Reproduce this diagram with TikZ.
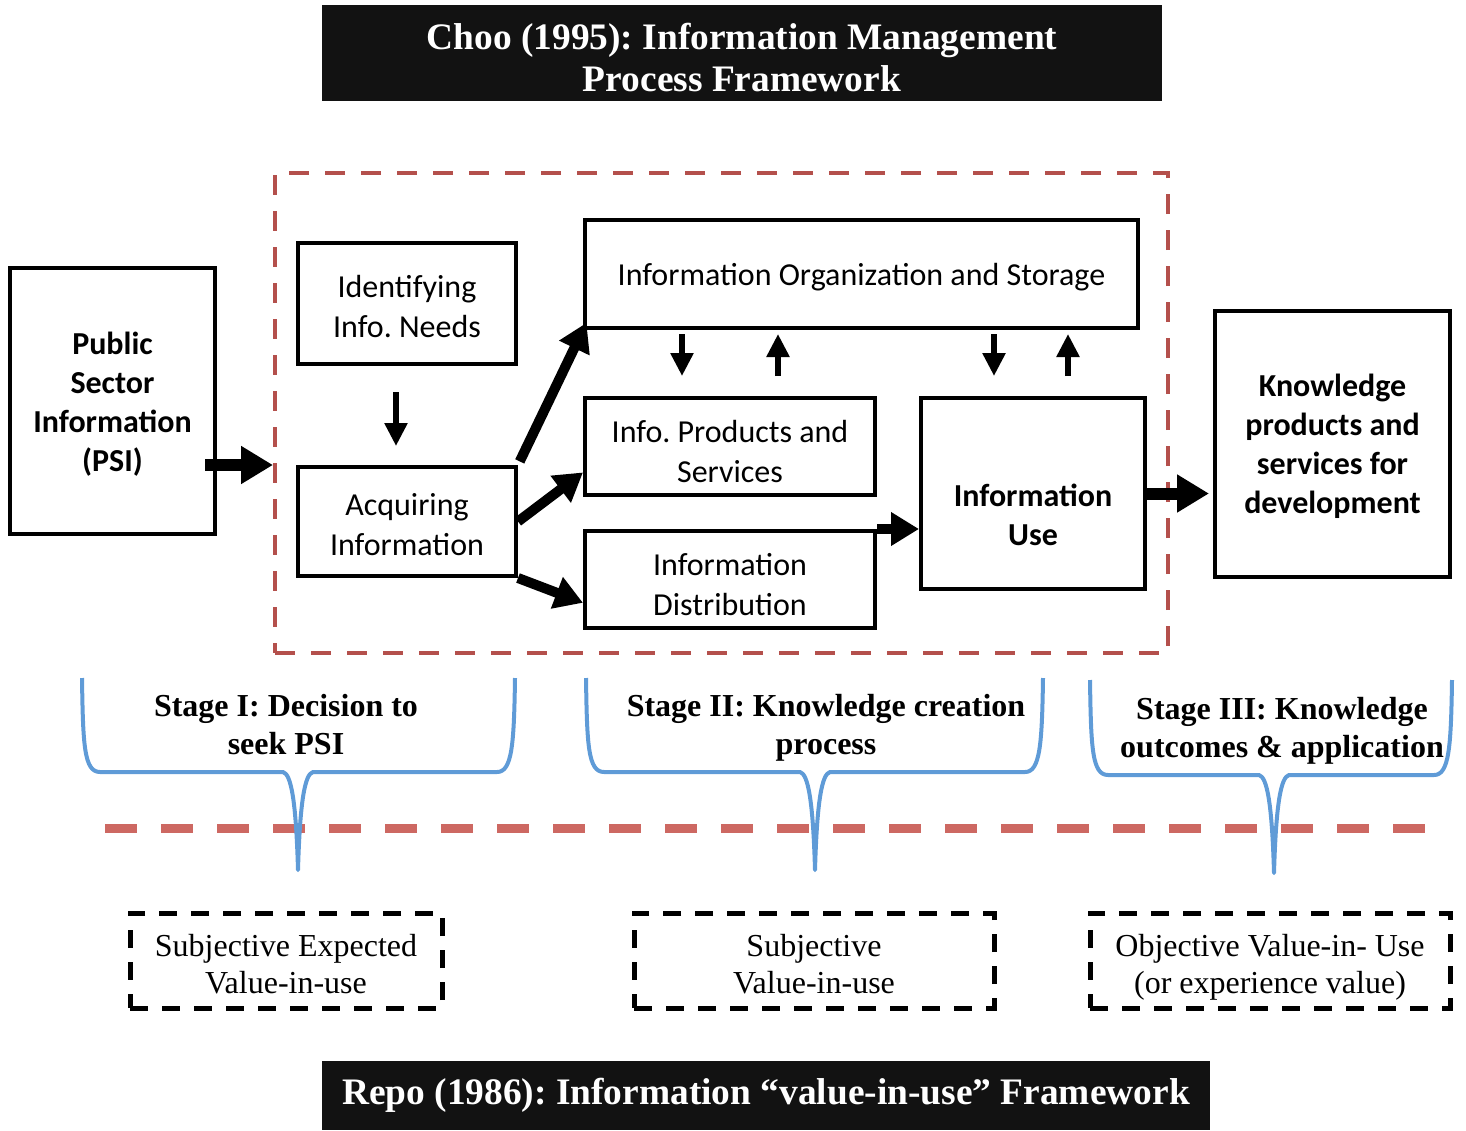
\documentclass[tikz,border=0pt]{standalone}
\usepackage{xcolor}
\usepackage{fontspec}
\setmainfont{Liberation Serif}
\newfontfamily\calfont{Carlito}
\usetikzlibrary{arrows.meta}

\definecolor{framered}{RGB}{180,80,76}
\definecolor{linered}{RGB}{205,104,98}
\definecolor{braceblue}{RGB}{95,155,215}

\begin{document}
\frenchspacing
\begin{tikzpicture}[x=0.5pt,y=-0.5pt,
  box/.style={draw,line width=2pt,align=center,inner sep=2pt,font=\calfont\fontsize{16}{20}\selectfont},
  boldbox/.style={box,font=\calfont\bfseries\fontsize{16}{19.5}\selectfont},
  titlebar/.style={fill=black!93,text=white,align=center,font=\bfseries\fontsize{18.7}{21}\selectfont},
  stagetext/.style={align=center,font=\bfseries\fontsize{16}{19}\selectfont},
  valuebox/.style={draw,line width=2.5pt,dash pattern=on 9pt off 7pt,align=center,font=\fontsize{16}{18.5}\selectfont},
  flow/.style={line width=5pt,-{Triangle[width=16pt,length=14pt]}},
  bigflow/.style={line width=6pt,-{Triangle[width=18pt,length=16pt]}},
  updown/.style={line width=2.75pt,-{Triangle[width=11pt,length=11.5pt]}},
  stagebrace/.style={braceblue,line width=2pt,line join=round}]
\useasboundingbox (0,0) rectangle (1466,1130);

% headline
\node[titlebar,minimum width=420pt,minimum height=48pt] (choo) at (742,53) {\rule{0pt}{18pt}Choo (1995): Information Management\\Process Framework};

% process frame and its boxes
\node[draw=framered,line width=2pt,dash pattern=on 10pt off 8pt,minimum width=446.5pt,minimum height=240pt] (frame) at (721.5,413) {};
\node[boldbox,minimum width=102.5pt,minimum height=133pt] (psi) at (112.5,401) {\rule{0pt}{14.5pt}Public\\Sector\\Information\\(PSI)};
\node[box,minimum width=109pt,minimum height=60.5pt] (ident) at (407,303.5) {\rule{0pt}{14pt}Identifying\\Info. Needs};
\node[box,minimum width=109pt,minimum height=54.5pt] (acq) at (407,521.5) {\rule{0pt}{14.5pt}Acquiring\\Information};
\node[box,minimum width=276.5pt,minimum height=54pt] (org) at (861.5,274) {\rule{0pt}{14.5pt}Information Organization and Storage};
\node[box,minimum width=145pt,minimum height=48.5pt] (prod) at (730,446.5) {\rule{0pt}{16.5pt}Info. Products and\\Services};
\node[box,minimum width=145pt,minimum height=48.5pt] (dist) at (730,579.5) {\rule{0pt}{16pt}Information\\Distribution};
\node[box,minimum width=112pt,minimum height=95.5pt] (use) at (1033,493.5) {};
\node[boldbox,draw=none] (usetext) at (1033,514.5) {Information\\Use};
\node[boldbox,minimum width=117.5pt,minimum height=133pt] (know) at (1332.5,444) {\rule{0pt}{14pt}Knowledge\\products and\\services for\\development};

% flows
\draw[bigflow] ([xshift=-6pt]psi.east |- acq.north) -- (frame.west |- acq.north);
\draw[updown,shorten <=13pt,shorten >=9.5pt] ([xshift=-5.5pt]ident.south) -- ([xshift=-5.5pt]acq.north);
\draw[flow,shorten <=2pt,shorten >=-4pt] (acq.north east) -- (org.south west);
\draw[flow] (acq.east) -- (prod.190);
\draw[flow] (acq.south east) -- (dist.189);
\draw[flow] (dist.north east) -- (dist.north east -| use.west);
\draw[bigflow,shorten >=2pt] (use.east) -- (know.west |- use.east);
\draw[updown,shorten <=2pt,shorten >=10pt] ([xshift=-24pt]prod.north |- org.south) -- ([xshift=-24pt]prod.north);
\draw[updown,shorten <=10pt,shorten >=2pt] ([xshift=24pt]prod.north) -- ([xshift=24pt]prod.north |- org.south);
\draw[updown,shorten <=2pt,shorten >=10pt] ([xshift=-19.5pt]use.north |- org.south) -- ([xshift=-19.5pt]use.north);
\draw[updown,shorten <=10pt,shorten >=2pt] ([xshift=17.5pt]use.north) -- ([xshift=17.5pt]use.north |- org.south);

% stages
\node[stagetext] (stage1) at (286,725) {Stage I: Decision to\\seek PSI};
\node[stagetext] (stage2) at (826,728) {Stage II: Knowledge creation\\process};
\node[stagetext] (stage3) at (1282,731) {Stage III: Knowledge\\outcomes \& application};

\coordinate (sepL) at (105,828);
\coordinate (sepR) at (1428,828);
\draw[linered,line width=4.5pt,dash pattern=on 15.75pt off 12.25pt] (sepL) -- (sepR);

\draw[stagebrace] (82,678) .. controls (83,745) and (84,772) .. (100,772) -- (283,772)
  .. controls (291,774) and (296,800) .. (298,870) .. controls (300,800) and (305,774) .. (313,772)
  -- (497,772) .. controls (512,772) and (514,745) .. (515,678);
\draw[stagebrace] (586,678) .. controls (587,745) and (588,772) .. (604,772) -- (800,772)
  .. controls (808,774) and (813,800) .. (815,870) .. controls (817,800) and (822,774) .. (830,772)
  -- (1025,772) .. controls (1040,772) and (1042,745) .. (1043,678);
\draw[stagebrace] (1090,680) .. controls (1091,748) and (1092,775) .. (1108,775) -- (1259,775)
  .. controls (1267,777) and (1272,803) .. (1274,873) .. controls (1276,803) and (1281,777) .. (1289,775)
  -- (1434,775) .. controls (1449,775) and (1451,748) .. (1452,680);

% value-in-use
\node[valuebox,minimum width=156pt,minimum height=47.5pt] (val1) at (286,960.5) {\rule{0pt}{15pt}Subjective Expected\\Value-in-use};
\node[valuebox,minimum width=180pt,minimum height=47.5pt] (val2) at (814,960.5) {\rule{0pt}{15pt}Subjective\\Value-in-use};
\node[valuebox,minimum width=180pt,minimum height=47.5pt] (val3) at (1270,960.5) {\rule{0pt}{18pt}Objective Value-in- Use\\(or experience value)};

\node[titlebar,minimum width=444pt,minimum height=34.5pt] (repo) at (766,1095.5) {Repo (1986): Information “value-in-use” Framework};
\end{tikzpicture}
\end{document}
